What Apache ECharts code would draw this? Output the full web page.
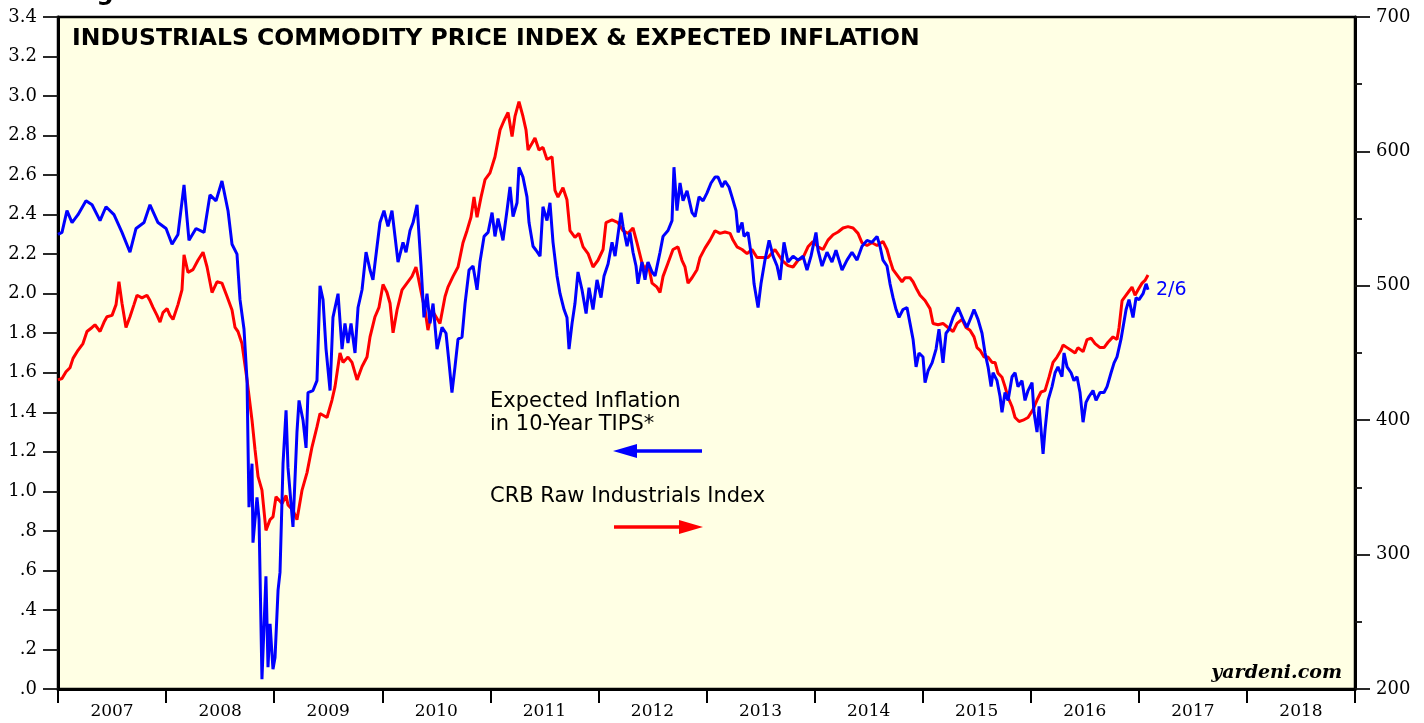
<!DOCTYPE html>
<html>
<head>
<meta charset="utf-8">
<title>Industrials Commodity Price Index & Expected Inflation</title>
<script src="https://cdn.jsdelivr.net/npm/echarts@6.0.0/dist/echarts.min.js"></script>
<style>
  html, body { margin: 0; padding: 0; background: #fff; }
  #chart { width: 1424px; height: 723px; }
</style>
</head>
<body>
<div id="chart"></div>
<script>
  // year labels under the axis
  var yearLabels = ['2007', '2008', '2009', '2010', '2011', '2012', '2013', '2014', '2015', '2016', '2017', '2018']

  // expected inflation in 10-year TIPS (%), dates in decimal years
  var tipsDate = [
    2007.000, 2007.037, 2007.083, 2007.130, 2007.185, 2007.259, 2007.315, 2007.389, 2007.444, 2007.518,
    2007.592, 2007.666, 2007.722, 2007.796, 2007.851, 2007.925, 2008.000, 2008.055, 2008.110, 2008.166,
    2008.212, 2008.277, 2008.351, 2008.406, 2008.462, 2008.517, 2008.573, 2008.610, 2008.656, 2008.684,
    2008.721, 2008.749, 2008.767, 2008.795, 2008.804, 2008.841, 2008.860, 2008.887, 2008.924, 2008.943,
    2008.962, 2008.989, 2009.008, 2009.036, 2009.054, 2009.082, 2009.110, 2009.128, 2009.174, 2009.211,
    2009.230, 2009.267, 2009.295, 2009.313, 2009.359, 2009.396, 2009.424, 2009.452, 2009.480, 2009.517,
    2009.544, 2009.591, 2009.628, 2009.655, 2009.683, 2009.711, 2009.748, 2009.776, 2009.813, 2009.850,
    2009.887, 2009.914, 2009.952, 2009.979, 2010.016, 2010.053, 2010.090, 2010.118, 2010.146, 2010.192,
    2010.220, 2010.257, 2010.285, 2010.322, 2010.359, 2010.386, 2010.414, 2010.442, 2010.470, 2010.507,
    2010.553, 2010.590, 2010.618, 2010.645, 2010.673, 2010.701, 2010.738, 2010.766, 2010.803, 2010.840,
    2010.877, 2010.904, 2010.942, 2010.979, 2011.016, 2011.043, 2011.071, 2011.117, 2011.154, 2011.182,
    2011.210, 2011.247, 2011.265, 2011.302, 2011.339, 2011.358, 2011.395, 2011.423, 2011.460, 2011.487,
    2011.524, 2011.552, 2011.580, 2011.617, 2011.645, 2011.682, 2011.709, 2011.728, 2011.756, 2011.783,
    2011.811, 2011.848, 2011.886, 2011.913, 2011.950, 2011.987, 2012.024, 2012.052, 2012.089, 2012.126,
    2012.154, 2012.209, 2012.228, 2012.265, 2012.292, 2012.320, 2012.348, 2012.366, 2012.403, 2012.431,
    2012.459, 2012.496, 2012.524, 2012.570, 2012.598, 2012.644, 2012.681, 2012.699, 2012.727, 2012.755,
    2012.783, 2012.820, 2012.866, 2012.894, 2012.931, 2012.968, 2013.005, 2013.042, 2013.079, 2013.107,
    2013.144, 2013.171, 2013.208, 2013.236, 2013.273, 2013.292, 2013.329, 2013.347, 2013.384, 2013.421,
    2013.440, 2013.477, 2013.504, 2013.541, 2013.579, 2013.616, 2013.653, 2013.680, 2013.717, 2013.754,
    2013.801, 2013.847, 2013.893, 2013.930, 2013.967, 2014.013, 2014.032, 2014.069, 2014.115, 2014.161,
    2014.198, 2014.254, 2014.300, 2014.346, 2014.393, 2014.439, 2014.485, 2014.531, 2014.578, 2014.605,
    2014.633, 2014.670, 2014.698, 2014.726, 2014.754, 2014.781, 2014.818, 2014.855, 2014.883, 2014.911,
    2014.939, 2014.966, 2015.003, 2015.022, 2015.050, 2015.087, 2015.124, 2015.151, 2015.188, 2015.216,
    2015.244, 2015.281, 2015.327, 2015.373, 2015.410, 2015.447, 2015.475, 2015.512, 2015.549, 2015.577,
    2015.605, 2015.633, 2015.651, 2015.688, 2015.716, 2015.734, 2015.762, 2015.790, 2015.827, 2015.855,
    2015.882, 2015.919, 2015.947, 2015.975, 2016.012, 2016.030, 2016.058, 2016.077, 2016.114, 2016.132,
    2016.160, 2016.197, 2016.225, 2016.252, 2016.289, 2016.308, 2016.336, 2016.373, 2016.400, 2016.428,
    2016.456, 2016.484, 2016.511, 2016.539, 2016.576, 2016.604, 2016.641, 2016.678, 2016.706, 2016.743,
    2016.771, 2016.798, 2016.835, 2016.854, 2016.882, 2016.909, 2016.946, 2016.974, 2017.002, 2017.039,
    2017.067, 2017.085
  ]
  var tipsValue = [
    2.30, 2.31, 2.42, 2.36, 2.40, 2.47, 2.45, 2.37, 2.44, 2.40,
    2.31, 2.21, 2.33, 2.36, 2.45, 2.36, 2.33, 2.25, 2.30, 2.55,
    2.27, 2.33, 2.31, 2.50, 2.47, 2.57, 2.42, 2.25, 2.20, 1.97,
    1.82, 1.56, 0.92, 1.14, 0.74, 0.97, 0.86, 0.05, 0.57, 0.11,
    0.33, 0.10, 0.16, 0.50, 0.59, 1.14, 1.41, 1.12, 0.82, 1.30,
    1.46, 1.36, 1.22, 1.50, 1.51, 1.56, 2.04, 1.97, 1.72, 1.51,
    1.88, 2.00, 1.72, 1.85, 1.75, 1.85, 1.70, 1.93, 2.02, 2.21,
    2.12, 2.07, 2.24, 2.36, 2.42, 2.34, 2.42, 2.29, 2.16, 2.26,
    2.21, 2.32, 2.36, 2.45, 2.14, 1.88, 2.00, 1.85, 1.95, 1.72,
    1.83, 1.80, 1.65, 1.50, 1.63, 1.77, 1.78, 1.95, 2.12, 2.14,
    2.02, 2.16, 2.29, 2.31, 2.41, 2.29, 2.38, 2.27, 2.42, 2.54,
    2.39, 2.46, 2.64, 2.59, 2.49, 2.36, 2.24, 2.22, 2.19, 2.44,
    2.37, 2.46, 2.26, 2.09, 2.00, 1.92, 1.88, 1.72, 1.85, 1.95,
    2.11, 2.02, 1.90, 2.03, 1.92, 2.07, 1.98, 2.09, 2.15, 2.26,
    2.19, 2.41, 2.34, 2.24, 2.31, 2.21, 2.14, 2.05, 2.16, 2.07,
    2.16, 2.11, 2.09, 2.21, 2.29, 2.32, 2.37, 2.64, 2.42, 2.56,
    2.47, 2.52, 2.41, 2.39, 2.49, 2.47, 2.51, 2.56, 2.59, 2.59,
    2.54, 2.57, 2.54, 2.49, 2.42, 2.31, 2.36, 2.29, 2.31, 2.17,
    2.05, 1.93, 2.05, 2.17, 2.27, 2.19, 2.14, 2.07, 2.26, 2.16,
    2.19, 2.17, 2.19, 2.12, 2.19, 2.31, 2.22, 2.14, 2.21, 2.16,
    2.22, 2.12, 2.17, 2.21, 2.17, 2.24, 2.27, 2.26, 2.29, 2.24,
    2.17, 2.14, 2.05, 1.98, 1.92, 1.88, 1.92, 1.93, 1.85, 1.77,
    1.63, 1.70, 1.68, 1.55, 1.61, 1.65, 1.72, 1.82, 1.65, 1.80,
    1.82, 1.88, 1.93, 1.87, 1.83, 1.88, 1.92, 1.87, 1.80, 1.70,
    1.63, 1.53, 1.60, 1.56, 1.48, 1.40, 1.50, 1.46, 1.58, 1.60,
    1.53, 1.56, 1.46, 1.51, 1.55, 1.40, 1.30, 1.43, 1.19, 1.31,
    1.46, 1.53, 1.60, 1.63, 1.58, 1.70, 1.63, 1.60, 1.56, 1.58,
    1.50, 1.35, 1.45, 1.48, 1.51, 1.46, 1.50, 1.50, 1.53, 1.60,
    1.65, 1.68, 1.77, 1.83, 1.92, 1.97, 1.88, 1.98, 1.97, 2.00,
    2.05, 2.02
  ]

  // CRB raw industrials index, dates in decimal years
  var crbDate = [
    2007.000, 2007.037, 2007.074, 2007.111, 2007.139, 2007.185, 2007.231, 2007.268, 2007.315, 2007.342,
    2007.389, 2007.426, 2007.453, 2007.500, 2007.537, 2007.564, 2007.592, 2007.629, 2007.666, 2007.703,
    2007.731, 2007.777, 2007.823, 2007.851, 2007.879, 2007.916, 2007.944, 2007.971, 2008.009, 2008.036,
    2008.064, 2008.110, 2008.147, 2008.166, 2008.203, 2008.249, 2008.295, 2008.342, 2008.379, 2008.425,
    2008.471, 2008.517, 2008.564, 2008.610, 2008.638, 2008.665, 2008.702, 2008.749, 2008.795, 2008.823,
    2008.851, 2008.887, 2008.924, 2008.962, 2008.989, 2009.017, 2009.073, 2009.110, 2009.128, 2009.174,
    2009.211, 2009.258, 2009.304, 2009.350, 2009.396, 2009.424, 2009.489, 2009.535, 2009.563, 2009.609,
    2009.637, 2009.683, 2009.720, 2009.767, 2009.813, 2009.859, 2009.887, 2009.933, 2009.970, 2010.007,
    2010.044, 2010.072, 2010.100, 2010.137, 2010.183, 2010.229, 2010.275, 2010.312, 2010.331, 2010.368,
    2010.396, 2010.423, 2010.460, 2010.497, 2010.534, 2010.581, 2010.608, 2010.655, 2010.701, 2010.747,
    2010.784, 2010.821, 2010.849, 2010.877, 2010.914, 2010.951, 2010.997, 2011.043, 2011.090, 2011.127,
    2011.164, 2011.201, 2011.228, 2011.265, 2011.302, 2011.330, 2011.349, 2011.386, 2011.413, 2011.450,
    2011.487, 2011.524, 2011.571, 2011.598, 2011.626, 2011.672, 2011.709, 2011.737, 2011.783, 2011.820,
    2011.858, 2011.904, 2011.950, 2011.996, 2012.043, 2012.070, 2012.126, 2012.181, 2012.228, 2012.274,
    2012.320, 2012.357, 2012.403, 2012.431, 2012.459, 2012.496, 2012.542, 2012.570, 2012.598, 2012.644,
    2012.690, 2012.736, 2012.773, 2012.801, 2012.829, 2012.866, 2012.912, 2012.940, 2012.986, 2013.033,
    2013.079, 2013.125, 2013.171, 2013.218, 2013.245, 2013.282, 2013.329, 2013.375, 2013.421, 2013.467,
    2013.514, 2013.569, 2013.634, 2013.699, 2013.754, 2013.801, 2013.847, 2013.893, 2013.939, 2013.985,
    2014.032, 2014.078, 2014.124, 2014.171, 2014.217, 2014.263, 2014.309, 2014.356, 2014.402, 2014.439,
    2014.485, 2014.531, 2014.578, 2014.633, 2014.670, 2014.698, 2014.726, 2014.772, 2014.809, 2014.837,
    2014.883, 2014.911, 2014.948, 2014.976, 2015.022, 2015.068, 2015.096, 2015.142, 2015.188, 2015.234,
    2015.281, 2015.318, 2015.364, 2015.401, 2015.438, 2015.475, 2015.503, 2015.531, 2015.568, 2015.605,
    2015.642, 2015.670, 2015.697, 2015.734, 2015.762, 2015.790, 2015.827, 2015.855, 2015.892, 2015.929,
    2015.975, 2016.021, 2016.058, 2016.095, 2016.132, 2016.169, 2016.206, 2016.243, 2016.280, 2016.299,
    2016.336, 2016.373, 2016.410, 2016.437, 2016.484, 2016.521, 2016.558, 2016.595, 2016.641, 2016.678,
    2016.715, 2016.761, 2016.798, 2016.817, 2016.845, 2016.872, 2016.900, 2016.937, 2016.965, 2016.993,
    2017.030, 2017.057, 2017.085
  ]
  var crbValue = [
    430, 431, 436, 439, 446, 452, 457, 466, 469, 471,
    466, 473, 477, 478, 486, 503, 487, 469, 477, 486,
    493, 491, 493, 489, 484, 478, 473, 480, 483, 478,
    475, 486, 497, 523, 510, 512, 519, 525, 514, 495,
    503, 502, 492, 482, 469, 466, 457, 430, 400, 378,
    358, 348, 318, 326, 328, 343, 338, 344, 337, 333,
    326, 348, 361, 380, 395, 405, 402, 415, 425, 450,
    443, 447, 443, 430, 440, 447, 462, 477, 484, 501,
    495, 487, 465, 482, 497, 502, 507, 514, 507, 492,
    482, 467, 482, 477, 472, 492, 499, 507, 514, 532,
    541, 551, 566, 551, 566, 579, 584, 596, 616, 623,
    629, 611, 626, 637, 626, 616, 601, 606, 610, 601,
    603, 594, 596, 571, 566, 573, 564, 541, 536, 539,
    529, 524, 514, 519, 527, 547, 549, 547, 541, 539,
    543, 532, 517, 512, 517, 502, 499, 495, 507, 517,
    527, 529, 519, 514, 502, 506, 512, 521, 528, 534,
    541, 539, 540, 539, 534, 529, 527, 524, 527, 521,
    521, 521, 527, 519, 515, 514, 519, 521, 529, 533,
    529, 527, 534, 538, 540, 543, 544, 543, 539, 532,
    530, 532, 530, 533, 527, 519, 512, 507, 503, 506,
    506, 503, 497, 493, 489, 483, 472, 471, 472, 469,
    466, 472, 475, 469, 467, 462, 454, 452, 447, 447,
    443, 443, 435, 432, 425, 417, 410, 402, 399, 400,
    402, 408, 415, 421, 422, 432, 443, 447, 452, 456,
    454, 452, 450, 454, 451, 460, 461, 457, 454, 454,
    458, 462, 460, 469, 489, 492, 495, 499, 493, 497,
    502, 504, 508
  ]

  function pairs(xs, ys) {
    var out = []
    for (var i = 0; i < xs.length; i++) {
      out.push([xs[i], ys[i]])
    }
    return out
  }

  var chart = echarts.init(document.getElementById('chart'))

  var serifFont = '"DejaVu Serif", "Liberation Serif", serif'
  var sansFont = '"DejaVu Sans", "Liberation Sans", sans-serif'

  chart.setOption({
    animation: false,
    backgroundColor: '#ffffff',
    grid: {
      left: 58,
      right: 69,
      top: 17,
      bottom: 34,
      show: true,
      backgroundColor: '#FFFFE4',
      borderColor: '#000',
      borderWidth: 2.5
    },
    xAxis: [
      {
        type: 'value',
        min: 2007,
        max: 2019,
        interval: 1,
        axisLine: {show: true, onZero: false, lineStyle: {color: '#000', width: 3}},
        axisTick: {show: true, length: 14, lineStyle: {color: '#000', width: 2}},
        axisLabel: {show: false},
        splitLine: {show: false}
      },
      {
        type: 'category',
        position: 'bottom',
        data: yearLabels,
        boundaryGap: true,
        axisLine: {show: false},
        axisTick: {show: false},
        axisLabel: {
          color: '#000',
          fontFamily: serifFont,
          fontSize: 17,
          margin: 14
        },
        splitLine: {show: false}
      }
    ],
    yAxis: [
      {
        type: 'value',
        position: 'left',
        min: 0,
        max: 3.4,
        interval: 0.2,
        axisLine: {show: true, lineStyle: {color: '#000', width: 3}},
        axisTick: {show: true, length: 15, lineStyle: {color: '#111', width: 1.8}},
        axisLabel: {
          color: '#000',
          fontFamily: serifFont,
          fontSize: 18,
          margin: 21,
          formatter: function (v) {
            var s = v.toFixed(1)
            return v < 1 ? s.slice(1) : s
          }
        },
        splitLine: {show: false}
      },
      {
        type: 'value',
        position: 'right',
        min: 200,
        max: 700,
        interval: 100,
        axisLine: {show: true, lineStyle: {color: '#000', width: 3}},
        axisTick: {show: true, length: 15, lineStyle: {color: '#111', width: 1.8}},
        minorTick: {show: true, splitNumber: 2, length: 7, lineStyle: {color: '#111', width: 1.8}},
        axisLabel: {
          color: '#000',
          fontFamily: serifFont,
          fontSize: 18,
          margin: 21
        },
        splitLine: {show: false},
        minorSplitLine: {show: false}
      }
    ],
    series: [
      {
        name: 'CRB Raw Industrials Index',
        type: 'line',
        xAxisIndex: 0,
        yAxisIndex: 1,
        showSymbol: false,
        data: pairs(crbDate, crbValue),
        lineStyle: {color: '#FF0000', width: 3},
        itemStyle: {color: '#FF0000'},
        z: 3
      },
      {
        name: 'Expected Inflation in 10-Year TIPS',
        type: 'line',
        xAxisIndex: 0,
        yAxisIndex: 0,
        showSymbol: false,
        data: pairs(tipsDate, tipsValue),
        lineStyle: {color: '#0000FF', width: 3},
        itemStyle: {color: '#0000FF'},
        endLabel: {
          show: true,
          formatter: '2/6',
          color: '#0000FF',
          fontFamily: sansFont,
          fontSize: 19,
          distance: 8
        },
        z: 4
      }
    ],
    graphic: [
      {
        type: 'text', left: 72, top: -18,
        style: {text: 'Figure 10.', fontFamily: sansFont, fontWeight: 'bold', fontSize: 24, fill: '#000'}
      },
      {
        type: 'text', left: 72, top: 27,
        style: {
          text: 'INDUSTRIALS COMMODITY PRICE INDEX & EXPECTED INFLATION',
          fontFamily: sansFont, fontWeight: 'bold', fontSize: 23.5, fill: '#000'
        }
      },
      {
        type: 'text', left: 490, top: 390,
        style: {
          text: 'Expected Inflation\nin 10-Year TIPS*',
          fontFamily: sansFont, fontSize: 21, lineHeight: 23, fill: '#000'
        }
      },
      {
        type: 'line',
        shape: {x1: 702, y1: 451, x2: 634, y2: 451},
        style: {stroke: '#0000FF', lineWidth: 3.5}
      },
      {
        type: 'polygon',
        shape: {points: [[613, 451], [637, 444], [637, 458]]},
        style: {fill: '#0000FF'}
      },
      {
        type: 'text', left: 490, top: 486,
        style: {text: 'CRB Raw Industrials Index', fontFamily: sansFont, fontSize: 21, fill: '#000'}
      },
      {
        type: 'line',
        shape: {x1: 614, y1: 527, x2: 682, y2: 527},
        style: {stroke: '#FF0000', lineWidth: 3.5}
      },
      {
        type: 'polygon',
        shape: {points: [[703, 527], [679, 520], [679, 534]]},
        style: {fill: '#FF0000'}
      },
      {
        type: 'text', right: 82, top: 664,
        style: {
          text: 'yardeni.com',
          fontFamily: serifFont, fontStyle: 'italic', fontWeight: 'bold', fontSize: 19, fill: '#000'
        }
      }
    ]
  })

  window.addEventListener('resize', function () {
    chart.resize()
  })
</script>
</body>
</html>
